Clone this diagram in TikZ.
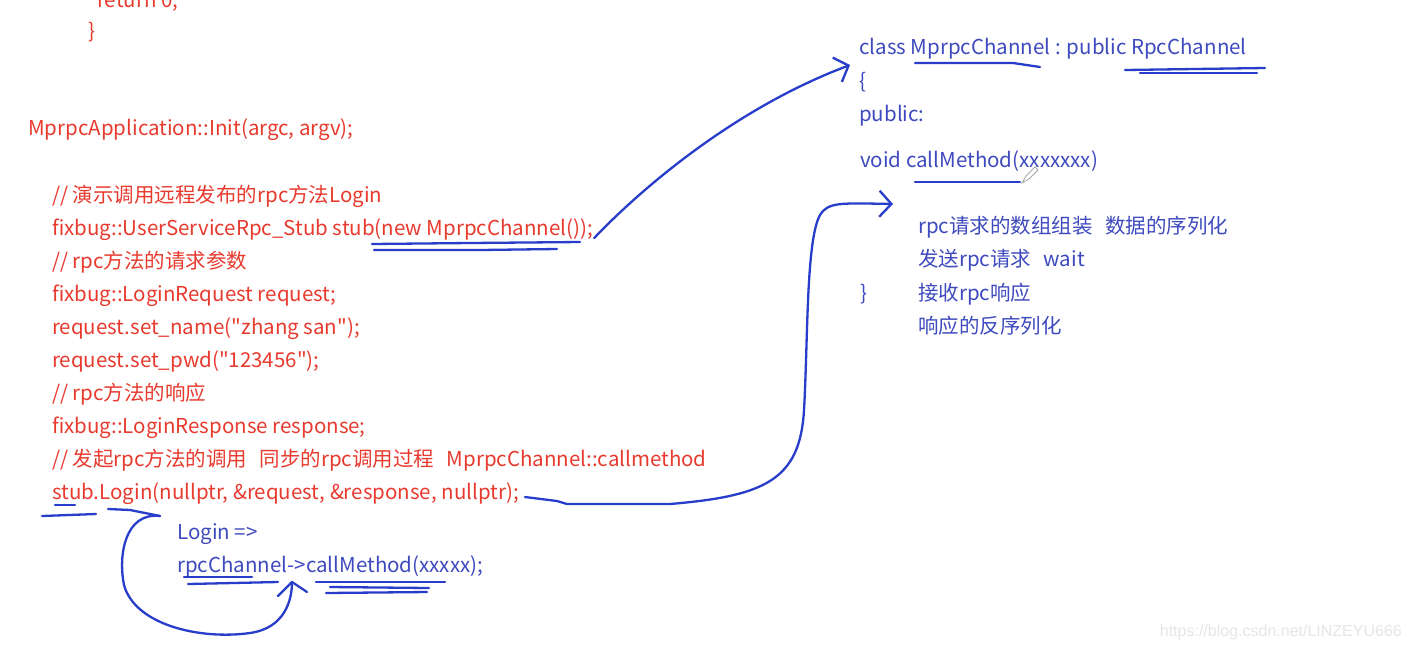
\documentclass[tikz,border=0pt]{standalone}
\usepackage{fontspec}
\setmainfont{Noto Sans CJK SC}[Ligatures=TeXOff]
\newfontfamily\wmfont{Liberation Sans}
\usetikzlibrary{arrows.meta}
\definecolor{codered}{RGB}{232,58,46}
\definecolor{codeblue}{RGB}{62,74,190}
\definecolor{ink}{RGB}{40,62,202}
\definecolor{wmgray}{RGB}{230,230,230}
\begin{document}
\begin{tikzpicture}[x=1pt,y=-1pt,
  redtxt/.style={anchor=base west, inner sep=0pt, text=codered, font=\fontsize{20.5}{24}\selectfont},
  bluetxt/.style={anchor=base west, inner sep=0pt, text=codeblue, font=\fontsize{20.5}{24}\selectfont},
  pen/.style={draw=ink, line width=2.3pt, line cap=round, line join=round},
  barb/.style={pen, -{Straight Barb[length=12pt,width=26pt,line width=2.3pt]}}
]
\useasboundingbox[fill=white] (0,0) rectangle (1412,649);

% red code (left)
\node[redtxt] (ret)  at (97,7)   {return 0;};
\node[redtxt] (cb)   at (88,38)  {\}};
\node[redtxt] (init) at (28,135) {MprpcApplication::Init(argc, argv);};
\node[redtxt] (c1)   at (52,202) {// 演示调用远程发布的rpc方法Login};
\node[redtxt] (stub) at (52,235) {fixbug::UserServiceRpc\_Stub stub(new MprpcChannel());};
\node[redtxt] (c2)   at (52,268) {// rpc方法的请求参数};
\node[redtxt] (req)  at (52,301) {fixbug::LoginRequest request;};
\node[redtxt] (nm)   at (52,334) {request.set\_name("zhang san");};
\node[redtxt] (pw)   at (52,367) {request.set\_pwd("123456");};
\node[redtxt] (c3)   at (52,400) {// rpc方法的响应};
\node[redtxt] (resp) at (52,433) {fixbug::LoginResponse response;};
\node[redtxt] (c4)   at (52,466) {// 发起rpc方法的调用\hspace{0.6em}同步的rpc调用过程\hspace{0.6em}MprpcChannel::callmethod};
\node[redtxt] (login) at (52,499) {stub.Login(nullptr, \&request, \&response, nullptr);};

% blue notes under call
\node[bluetxt] (l1) at (177,539) {Login =>};
\node[bluetxt] (l2) at (177,572) {rpcChannel->callMethod(xxxxx);};

% blue class (right)
\node[bluetxt] (cls)  at (859,54)  {class MprpcChannel : public RpcChannel};
\node[bluetxt] (ob)   at (859,88)  {\{};
\node[bluetxt] (pub)  at (859,121) {public:};
\node[bluetxt] (cm)   at (860,167) {void callMethod(xxxxxxx)};
\node[bluetxt] (s1)   at (918,233) {rpc请求的数组组装\hspace{0.6em}数据的序列化};
\node[bluetxt] (s2)   at (918,266) {发送rpc请求\hspace{0.6em}wait};
\node[bluetxt] (cbr)  at (860,300) {\}};
\node[bluetxt] (s3)   at (918,300) {接收rpc响应};
\node[bluetxt] (s4)   at (918,333) {响应的反序列化};

% watermark
\node[anchor=base east, inner sep=0pt, text=wmgray, font=\wmfont\fontsize{16}{19}\selectfont] (wm) at (1402,636) {https://blog.csdn.net/LINZEYU666};

% underlines
\draw[pen] (372,244) -- (470,243) -- (580,242);
\draw[pen] (374,250) -- (480,250) -- (557,249);
\draw[pen] (55,505) -- (75,505);
\draw[pen] (42,516) -- (96,514);
\draw[pen] (108,509) -- (130,510) -- (160,516);
\draw[pen] (184,577) -- (252,577);
\draw[pen] (188,584) -- (278,582);
\draw[pen] (316,582) -- (445,582);
\draw[pen] (330,587) -- (429,588);
\draw[pen] (326,593) -- (427,592);
\draw[pen] (915,63) -- (1013,63) -- (1040,67);
\draw[pen] (1125,70) -- (1265,68);
\draw[pen] (1140,73) -- (1257,73);
\draw[pen] (915,182) -- (1020,182);

% pencil cursor
\draw[gray!70, line width=0.8pt, fill=white] (1022,183) -- (1026,176) -- (1035,167) -- (1038,170) -- (1029,179) -- cycle;

% arrow: stub -> class
\coordinate (a1s) at (stub.base east);
\coordinate (a1e) at (850,65);
\draw[barb] ([xshift=1pt,yshift=-3pt]a1s) .. controls (635,195) and (730,110) .. (a1e);

% arrow: Login call -> callMethod body
\coordinate (a2s) at ([xshift=6pt,yshift=2pt]login.base east);
\coordinate (a2e) at (893,204);
\draw[barb] (a2s) -- (557,501) -- (567,504) -- (670,504)
  .. controls (765,496) and (800,480) .. (804,410)
  .. controls (808,340) and (806,240) .. (820,215)
  .. controls (828,202) and (840,203) .. (a2e);

% loop arrow under Login
\coordinate (a3s) at (160,516);
\coordinate (a3e) at (292,582);
\draw[pen] (a3s) .. controls (125,512) and (118,555) .. (124,585)
  .. controls (135,625) and (200,640) .. (250,633)
  .. controls (285,628) and (292,600) .. (a3e);
\draw[pen] (278,596) -- (a3e) -- (307,592);
\end{tikzpicture}
\end{document}
